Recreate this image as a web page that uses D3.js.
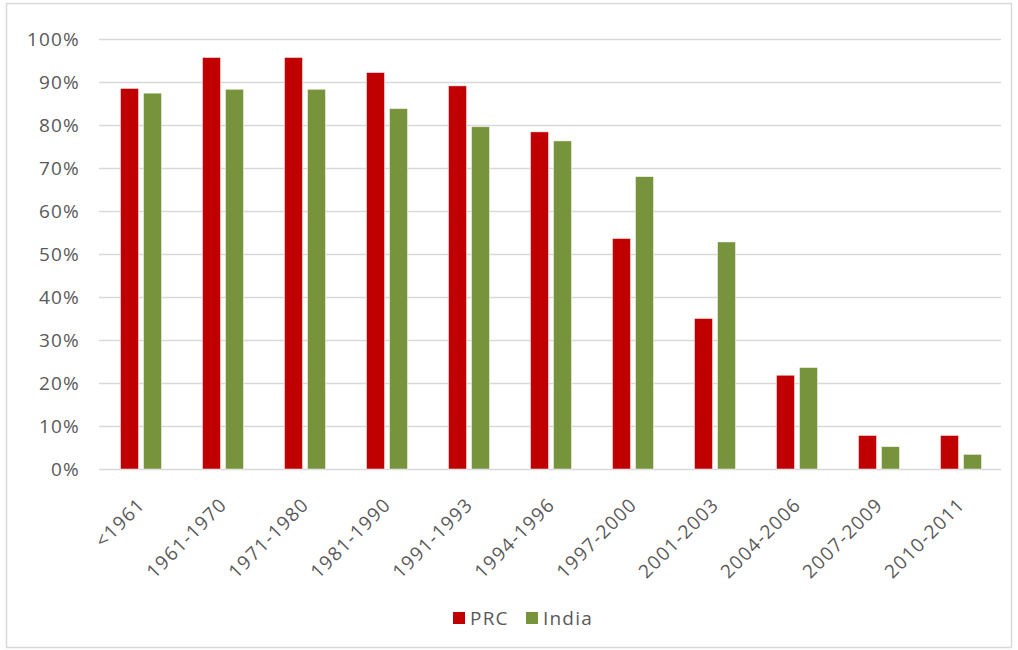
<!DOCTYPE html>
<html>
<head>
<meta charset="utf-8">
<script src="https://cdn.jsdelivr.net/npm/d3@7"></script>
<style>
  body { margin: 0; background: #fff; }
  text { font-family: "Open Sans", "Liberation Sans", sans-serif; fill: #595959; }
</style>
</head>
<body>
<svg id="chart" width="1018" height="650"></svg>
<script>
var periods = ["<1961","1961-1970","1971-1980","1981-1990","1991-1993","1994-1996",
               "1997-2000","2001-2003","2004-2006","2007-2009","2010-2011"];
var prcValues   = [88.5, 95.7, 95.7, 92.2, 89.1, 78.4, 53.6, 35.0, 21.8, 7.8, 7.8];
var indiaValues = [87.4, 88.3, 88.3, 83.8, 79.6, 76.3, 68.0, 52.8, 23.6, 5.2, 3.4];
var seriesNames = ["PRC", "India"];
var seriesColors = ["#C00000", "#77933C"];
var yTicks = [0,10,20,30,40,50,60,70,80,90,100];

var svg = d3.select("#chart");

// outer chart border
svg.append("rect").attr("x",6.5).attr("y",3.5).attr("width",1005).attr("height",644)
   .attr("fill","none").attr("stroke","#d9d9d9").attr("stroke-width",1.5);

var plotLeft = 99, plotRight = 1001, plotTop = 39, plotBottom = 469;

var x = d3.scaleBand().domain(periods).range([plotLeft,plotRight]).paddingInner(0).paddingOuter(0);
var y = d3.scaleLinear().domain([0,100]).range([plotBottom,plotTop]);

// gridlines
svg.append("g").selectAll("line").data(yTicks).enter().append("line")
   .attr("x1",plotLeft).attr("x2",plotRight)
   .attr("y1",function(d){ return Math.round(y(d))+0.5; })
   .attr("y2",function(d){ return Math.round(y(d))+0.5; })
   .attr("stroke","#d9d9d9").attr("stroke-width",1.3);

// y labels
var yAxis = d3.axisLeft(y).tickValues(yTicks).tickSize(0).tickPadding(0)
   .tickFormat(function(d){ return d + "%"; });
var gy = svg.append("g").attr("transform","translate(80,0)").call(yAxis);
gy.select(".domain").remove();
gy.selectAll("text").style("font-size","19px").style("letter-spacing","1.2px")
   .attr("fill","#595959");

// bars
var data = [prcValues, indiaValues];
var barW = 18, gap = 5;
data.forEach(function(vals, s){
  svg.append("g").selectAll("rect").data(vals).enter().append("rect")
     .attr("x", function(d,i){
        var c = x(periods[i]) + x.bandwidth()/2 + 1;
        return s === 0 ? c - gap/2 - barW : c + gap/2;
     })
     .attr("y", function(d){ return y(d); })
     .attr("width", barW)
     .attr("height", function(d){ return y(0) - y(d); })
     .attr("fill", seriesColors[s])
     .attr("stroke", "#ffffff").attr("stroke-opacity",0.6).attr("stroke-width",0.8);
});

// x labels
var xAxis = d3.axisBottom(x).tickSize(0).tickPadding(0);
var gx = svg.append("g").attr("transform","translate(0,"+plotBottom+")").call(xAxis);
gx.select(".domain").remove();
gx.selectAll("text")
   .style("font-size","19px").style("letter-spacing","1.2px")
   .attr("fill","#595959")
   .attr("text-anchor","end").attr("dy",0).attr("y",0)
   .attr("transform","translate(6,37) rotate(-45)");
svg.selectAll("g").attr("font-family",null).attr("font-size",null);

// legend
var legX = [453, 526];
seriesNames.forEach(function(n, s){
  svg.append("rect").attr("x",legX[s]).attr("y",612).attr("width",12).attr("height",12)
     .attr("fill",seriesColors[s]);
  svg.append("text").attr("x",legX[s]+17).attr("y",625)
     .style("font-size","19px").style("letter-spacing","1.2px").text(n);
});
</script>
</body>
</html>
